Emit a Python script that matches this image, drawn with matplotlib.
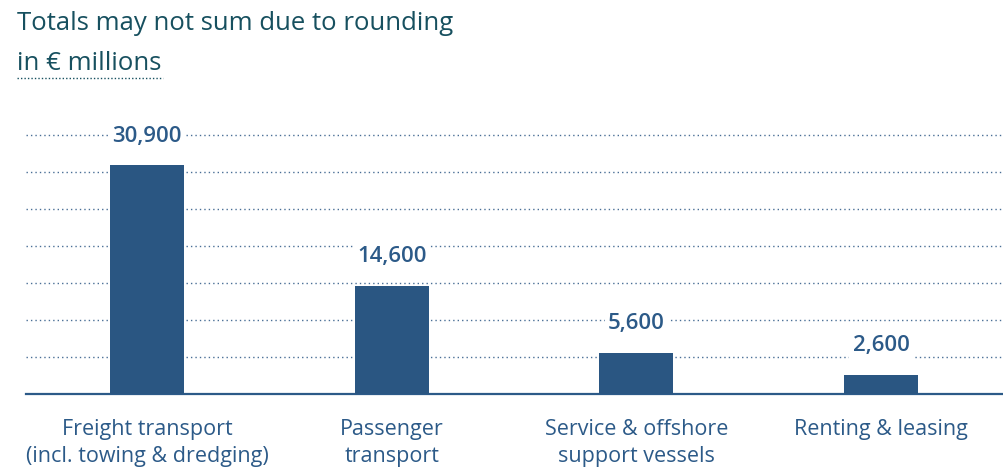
import numpy as np
import matplotlib.pyplot as plt

# Daten
kategorien = ['Freight transport\n(incl. towing & dredging)', 'Passenger\ntransport',
              'Service & offshore\nsupport vessels', 'Renting & leasing']
werte = [30900, 14600, 5600, 2600]
beschriftungen = ['30,900', '14,600', '5,600', '2,600']

balken_farbe = '#2a5682'
text_farbe = '#2c5a88'
titel_farbe = '#17505f'

plt.rcParams['font.family'] = ['Open Sans', 'DejaVu Sans']

fig = plt.figure(figsize=(10.04, 4.69), dpi=100)
ax = fig.add_axes([26 / 1004, 75 / 469, 978 / 1004, 273.8 / 469])

x = np.arange(len(werte))
ax.bar(x, werte, width=0.302, color=balken_farbe, zorder=3)

ax.set_xlim(-0.4945, 3.503)
ax.set_ylim(0, 37000)
ax.set_yticks(np.arange(5000, 36000, 5000))
ax.yaxis.grid(True, linestyle=(0, (1, 2.2)), color='#4a6f96', linewidth=1.0, zorder=0)
ax.tick_params(axis='y', length=0, labelleft=False)

for spine in ['top', 'right', 'left']:
    ax.spines[spine].set_visible(False)
ax.spines['bottom'].set_color(text_farbe)
ax.spines['bottom'].set_linewidth(1.6)

ax.set_xticks(x)
ax.set_xticklabels(kategorien, fontsize=15.5, color=text_farbe, linespacing=1.38)
ax.tick_params(axis='x', length=0, pad=18)

for xi, w, t in zip(x, werte, beschriftungen):
    ax.annotate(t, (xi, w), xytext=(0, 21), textcoords='offset points',
                ha='center', va='center', fontsize=16, fontweight='semibold',
                color=text_farbe, zorder=4,
                bbox=dict(boxstyle='square,pad=0.15', fc='white', ec='none'))

fig.text(17 / 1004, 1 - 24 / 469, 'Totals may not sum due to rounding',
         fontsize=18.5, color=titel_farbe, va='center', ha='left')
fig.text(17 / 1004, 1 - 63 / 469, 'in € millions',
         fontsize=18.5, color=titel_farbe, va='center', ha='left')
fig.add_artist(plt.Line2D([17 / 1004, 163 / 1004], [1 - 78 / 469, 1 - 78 / 469],
                          transform=fig.transFigure, color=titel_farbe,
                          linestyle=(0, (1, 1.5)), linewidth=1.0))

fig.savefig('out.png', dpi=100)
